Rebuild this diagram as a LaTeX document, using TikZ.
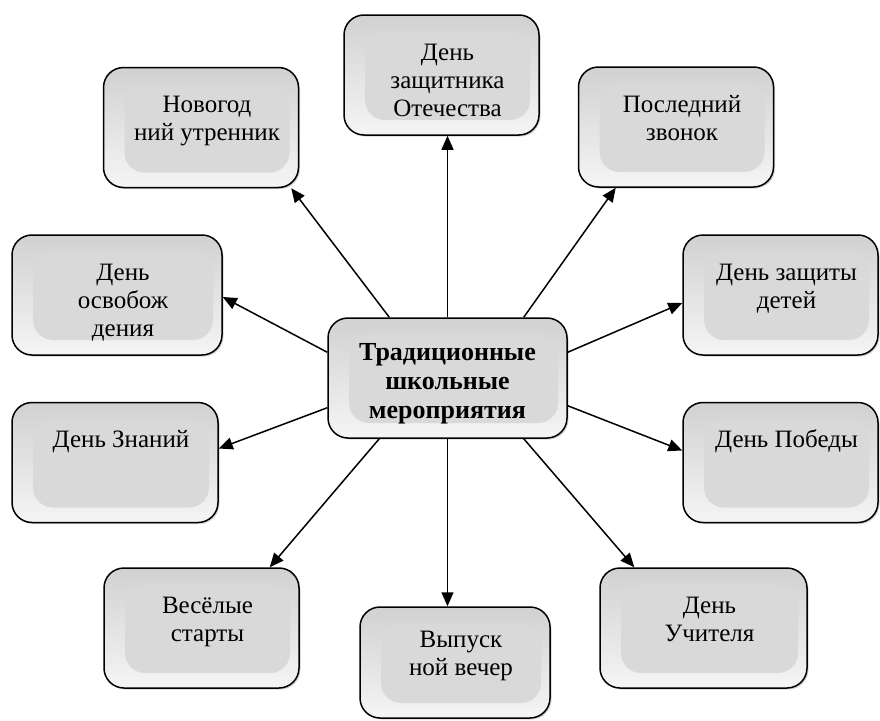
\documentclass[tikz,border=0pt]{standalone}
\usepackage{fontspec}
\setmainfont{Liberation Serif}
\usetikzlibrary{arrows.meta,shadows}

% text of a box, set from the top of the box
\newcommand{\evtext}[1]{\hspace*{12pt}\parbox[c][100pt][t]{175pt}{\centering\rule{0pt}{35pt}#1}}

\begin{document}
\begin{tikzpicture}
        [x=1pt, y=-1pt,
        event/.style ={rectangle, draw, line width=1.5pt, rounded corners=20pt,
        minimum width=195pt, minimum height=120pt, inner sep=0pt,
        top color=black!18, bottom color=black!4,
        drop shadow={shadow xshift=1.5pt, shadow yshift=-1.5pt, opacity=0.35},
        path picture={\fill[black!15]
            ([xshift=21pt,yshift=-17pt]path picture bounding box.north west) rectangle
            ([xshift=-9pt,yshift=15pt]path picture bounding box.south east);},
        font=\fontsize{25}{28}\selectfont},
        central/.style ={event, minimum width=239pt,
        font=\bfseries\fontsize{26}{29}\selectfont},
        line/.style ={draw, line width=1.5pt, -{Triangle[length=14pt,width=12pt]}}]
        \useasboundingbox (0,0) rectangle (880,720);

        \node [central] (main) at (447.5,378)
            {\parbox[c][100pt][t]{235pt}{\centering\rule{0pt}{32pt}Традиционные\\школьные\\мероприятия}};

        % top row
        \node [event] (newyear) at (201,127.5) {\evtext{Новогод\\ний утренник}};
        \node [event] (defender) at (441.5,75) {\evtext{День\\защитника\\Отечества}};
        \node [event] (lastbell) at (676,127) {\evtext{Последний\\звонок}};
        % sides
        \node [event, minimum width=210pt] (liberation) at (117,295) {\evtext{День\\освобож\\дения}};
        \node [event] (children) at (780.5,295) {\evtext{День защиты\\детей}};
        \node [event, minimum width=206pt] (knowledge) at (115,462.5) {\evtext{День Знаний}};
        \node [event] (victory) at (780.5,462.5) {\evtext{День Победы}};
        % bottom row
        \node [event] (starts) at (201.5,628) {\evtext{Весёлые\\старты}};
        \node [event, minimum width=190pt, minimum height=111pt] (graduation) at (455,662.5)
            {\evtext{Выпуск\\ной вечер}};
        \node [event, minimum width=207pt] (teacher) at (703.5,628) {\evtext{День\\Учителя}};

        \begin{scope}[every path/.style=line]
            \path (main.north) -- (main.north |- defender.south);
            \path ([xshift=62pt]main.north west) -- ([xshift=-8pt]newyear.south east);
            \path ([xshift=-44pt]main.north east) -- ([xshift=38pt]lastbell.south west);
            \path ([yshift=-35pt]main.north west) -- ([yshift=-2pt]liberation.east);
            \path ([yshift=-35pt]main.north east) -- ([yshift=-8pt]children.west);
            \path ([yshift=31pt]main.south west) -- ([yshift=14pt]knowledge.east);
            \path ([yshift=33pt]main.south east) -- ([yshift=12pt]victory.west);
            \path ([xshift=52pt]main.south west) -- ([xshift=-30pt]starts.north east);
            \path (main.south) -- (main.south |- graduation.north);
            \path ([xshift=-44pt]main.south east) -- ([xshift=35pt]teacher.north west);
        \end{scope}
    \end{tikzpicture}
\end{document}
